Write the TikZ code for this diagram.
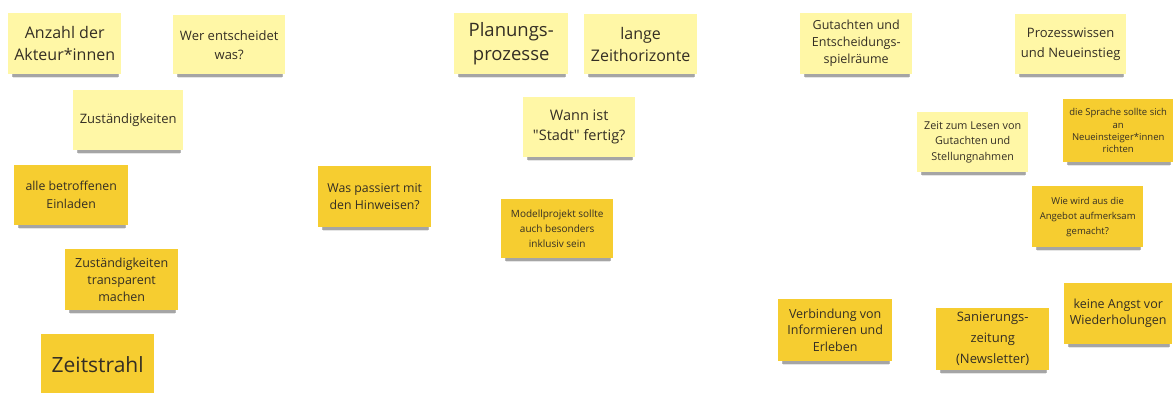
\documentclass[tikz,border=0pt]{standalone}
\usepackage{fontspec}
\setmainfont{Open Sans}
\usetikzlibrary{shadows}
\definecolor{lightnote}{RGB}{255,247,166}
\definecolor{darknote}{RGB}{246,205,48}
\definecolor{txt}{RGB}{52,46,36}
\newcommand\fsz[2]{\fontsize{#1pt}{#2pt}\selectfont}
\tikzset{
  note/.style={anchor=north west, inner sep=0pt, align=center, text=txt,
    general shadow={fill=black, opacity=0.1, shadow yshift=-6.5pt, shadow xshift=1pt, shadow scale=0.93},
    general shadow={fill=black, opacity=0.28, shadow yshift=-4.5pt, shadow xshift=1pt, shadow scale=0.95}},
  lightn/.style={note, fill=lightnote},
  darkn/.style={note, fill=darknote},
  sz/.style n args={2}{minimum width=#1pt, minimum height=#2pt}
}
\begin{document}
\begin{tikzpicture}[x=1pt,y=-1pt]
\useasboundingbox[fill=white] (0,0) rectangle (1173,392);
% left group
\node[lightn, sz={113}{61}, font=\fsz{16}{22}] (anzahl) at (8,13) {Anzahl der\\Akteur*innen};
\node[lightn, sz={112}{59}, font=\fsz{13}{19}] (wer) at (173,15) {Wer entscheidet\\was?};
\node[lightn, sz={110}{60}, font=\fsz{13}{18}] (zust) at (73,90) {Zuständigkeiten};
\node[darkn, sz={114}{60}, font=\fsz{12.3}{18}] (alle) at (14,165) {alle betroffenen\\Einladen};
\node[darkn, sz={113}{61}, font=\fsz{12.3}{17}] (hinw) at (318,166) {Was passiert mit\\den Hinweisen?};
\node[darkn, sz={113}{61}, font=\fsz{12.5}{17}] (transp) at (65,249) {Zuständigkeiten\\transparent\\machen};
\node[darkn, sz={113}{61}, font=\fsz{21}{26}] (zeit) at (41,334) {Zeitstrahl};
% middle group
\node[lightn, sz={114}{61}, font=\fsz{18.5}{24}] (plan) at (454,13) {Planungs-\\prozesse};
\node[lightn, sz={113}{60}, font=\fsz{16}{22}] (lange) at (584,14) {lange\\Zeithorizonte};
\node[lightn, sz={112}{60}, font=\fsz{14.5}{20}] (wann) at (523,97) {Wann ist\\\textquotedbl Stadt\textquotedbl{} fertig?};
\node[darkn, sz={112}{59}, font=\fsz{10}{15}] (modell) at (501,199) {Modellprojekt sollte\\auch besonders\\inklusiv sein};
% right group
\node[lightn, sz={112}{61}, font=\fsz{12.5}{17}] (gut) at (800,13) {Gutachten und\\Entscheidungs-\\spielräume};
\node[lightn, sz={111}{60}, font=\fsz{13}{20}] (proz) at (1015,14) {Prozesswissen\\und Neueinstieg};
\node[lightn, sz={111}{60}, font=\fsz{10.8}{15.5}] (lesen) at (917,112) {Zeit zum Lesen von\\Gutachten und\\Stellungnahmen};
\node[darkn, sz={110}{63}, font=\fsz{9.5}{12.4}] (sprache) at (1063,99) {die Sprache sollte sich\\an\\Neueinsteiger*innen\\richten};
\node[darkn, sz={111}{61}, font=\fsz{9.5}{15}] (angebot) at (1032,186) {Wie wird aus die\\Angebot aufmerksam\\gemacht?};
\node[darkn, sz={114}{62}, font=\fsz{12.5}{16.7}] (verb) at (778,299) {Verbindung von\\Informieren und\\Erleben};
\node[darkn, sz={113}{62}, font=\fsz{13}{21}] (san) at (936,308) {Sanierungs-\\zeitung\\(Newsletter)};
\node[darkn, sz={108}{61}, font=\fsz{12.5}{16}] (angst) at (1064,283) {keine Angst vor\\Wiederholungen};
\end{tikzpicture}
\end{document}
